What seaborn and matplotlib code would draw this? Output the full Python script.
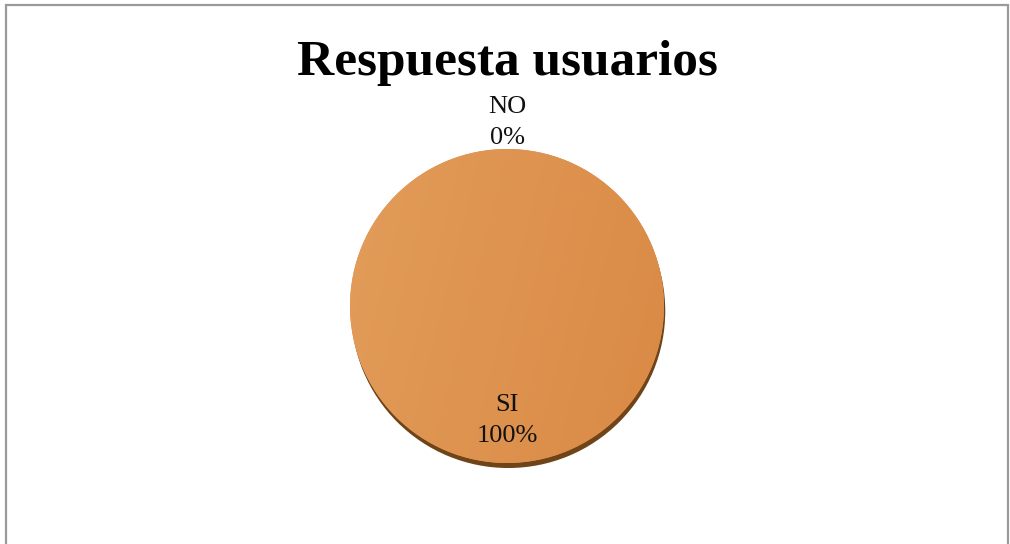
import numpy as np
import matplotlib
matplotlib.use("Agg")
import matplotlib.pyplot as plt
import matplotlib.patches as mpatches
import seaborn as sns

# Survey answers
categories = ["SI", "NO"]
values = [100, 0]
title = "Respuesta usuarios"

sns.set_theme(style="white")
plt.rcParams["font.family"] = ["Liberation Serif", "DejaVu Serif"]

fig = plt.figure(figsize=(10.10, 5.44), dpi=100)
W, H = 1010, 544

# Chart frame
frame = mpatches.Rectangle((5.5 / W, -0.05), 1002.5 / W, (H - 4.5) / H + 0.05,
                           transform=fig.transFigure, fill=False,
                           edgecolor="#9a9a9a", linewidth=1.6, clip_on=False)
fig.patches.append(frame)

r_px = 157
cx, cy = 507, H - 306
span = 1.5
size = 2 * span * r_px
ax = fig.add_axes([(cx - size / 2) / W, (cy - size / 2) / H, size / W, size / H])
ax.set_xlim(-span, span)
ax.set_ylim(-span, span)
ax.set_aspect("equal")
ax.axis("off")

# Thickness of the disc (darker rim under the top face)
ax.pie(values, startangle=90, counterclock=False, radius=1.0, center=(0.008, -0.032),
       colors=["#6f4419", "#6f4419"], wedgeprops=dict(linewidth=0))
wedges, _ = ax.pie(values, startangle=90, counterclock=False, radius=1.0,
                   colors=["#dd8f4b", "#4f81bd"], wedgeprops=dict(linewidth=0))

# Soft shading across the top face, lighter towards the left
xx, yy = np.meshgrid(np.linspace(0, 1, 256), np.linspace(0, 1, 256))
grad = np.clip(0.8 * xx + 0.2 * yy, 0, 1)
cmap = matplotlib.colors.LinearSegmentedColormap.from_list("face", ["#e39c5a", "#d98a45"])
for w in wedges:
    if w.theta2 - w.theta1 > 0:
        im = ax.imshow(grad, extent=(-1, 1, -1, 1), cmap=cmap, aspect="auto",
                       origin="upper", zorder=w.get_zorder() + 0.1)
        im.set_clip_path(w)

ax.set_xlim(-span, span)
ax.set_ylim(-span, span)

total = sum(values)
for w, cat, v in zip(wedges, categories, values):
    ang = np.deg2rad((w.theta1 + w.theta2) / 2)
    dist = 0.73 if v > 0 else 1.17
    x, y = dist * np.cos(ang), dist * np.sin(ang)
    ax.text(x, y, f"{cat}\n{v / total:.0%}", ha="center", va="center",
            fontsize=19, color="#111111", linespacing=1.55, zorder=10)

fig.text(507 / W, 1 - 63 / H, title, ha="center", va="center",
         fontsize=37, fontweight="bold", color="#000000")

fig.savefig("out.png", dpi=100)
